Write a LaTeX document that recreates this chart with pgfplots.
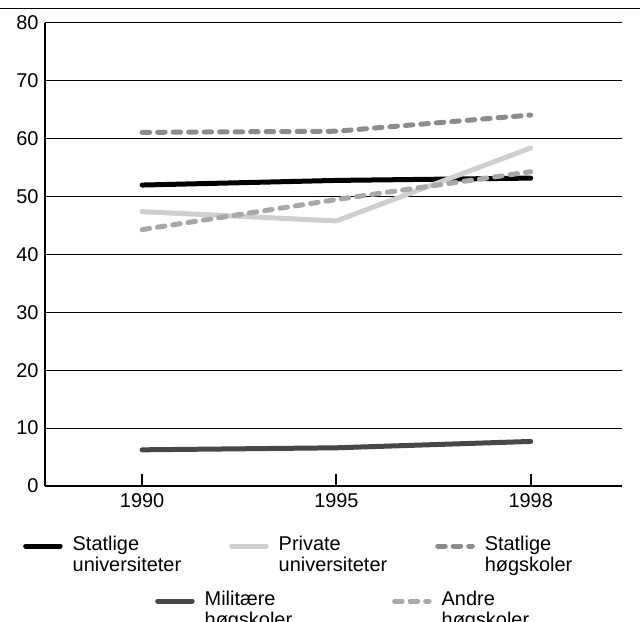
\documentclass[border=0pt]{standalone}
\usepackage{fontspec}
\setmainfont{Liberation Sans}
\usepackage{pgfplots}
\pgfplotsset{compat=1.18}

\definecolor{lgray}{HTML}{CFCFCF}
\definecolor{mgray}{HTML}{8C8C8C}
\definecolor{dgray}{HTML}{474747}
\definecolor{agray}{HTML}{A8A8A8}

\newcommand{\chartfont}{\fontsize{20}{21}\selectfont}

\pgfplotsset{
  dashline/.style={line width=5bp, line cap=round, dash pattern=on 7.5bp off 8bp},
  solidline/.style={line width=5bp, line cap=round, line join=round},
  mylegend/.style={
    draw=none, fill=none, inner sep=0pt, font=\chartfont,
    cells={align=left, anchor=base west},
    nodes={inner sep=0pt},
    /tikz/every odd column/.append style={column sep=10bp},
  },
  legend cell align=left,
  % text cells sit on their last line, so the sample is lifted to the first one
  legend image code/.code={\draw[#1] (2bp,25.5bp) -- (36.5bp,25.5bp);},
}

\begin{document}
\begin{tikzpicture}
\begin{axis}[
  at={(0,0)}, anchor=south west,
  scale only axis, width=577bp, height=463bp,
  xmin=-0.5, xmax=2.47, ymin=0, ymax=80,
  xtick={0,1,2}, xticklabels={1990,1995,1998},
  ytick={0,10,...,80},
  axis x line*=bottom, axis y line*=left,
  x axis line style={line width=2.4bp,-},
  y axis line style={line width=2bp,-},
  ymajorgrids, grid style={line width=1bp, black},
  ytick style={draw=none},
  xtick style={line width=2bp, black},
  xtick align=inside, major tick length=12bp,
  tick label style={font=\chartfont},
  /pgf/number format/assume math mode=true,
  xticklabel style={yshift=-4bp},
  yticklabel style={xshift=-3bp},
  legend columns=3,
  legend style={mylegend,
    at={(axis description cs:0,0)}, anchor=north west,
    xshift=-22bp, yshift=-50bp,
    /tikz/every even column/.append style={column sep=48bp}},
]
\addplot[black, solidline] coordinates {(0,52.0) (1,52.8) (2,53.2)};
\addlegendentry{Statlige\\universiteter}
\addplot[lgray, solidline] coordinates {(0,47.4) (1,45.8) (2,58.4)};
\addlegendentry{Private\\universiteter}
\addplot[mgray, dashline] coordinates {(0,61.1) (1,61.3) (2,64.1)};
\addlegendentry{Statlige\\høgskoler}
\addplot[dgray, solidline] coordinates {(0,6.25) (1,6.6) (2,7.7)};
\addplot[agray, dashline] coordinates {(0,44.3) (1,49.5) (2,54.3)};
\end{axis}

\begin{axis}[
  at={(0,0)}, anchor=south west,
  scale only axis, width=577bp, height=463bp,
  hide axis, xmin=0, xmax=1, ymin=0, ymax=1,
  legend columns=2,
  legend style={mylegend,
    at={(axis description cs:0,0)}, anchor=north west,
    xshift=110bp, yshift=-105bp,
    /tikz/every even column/.append style={column sep=100bp}},
]
\addlegendimage{dgray, solidline}
\addlegendentry{Militære\\høgskoler}
\addlegendimage{agray, dashline}
\addlegendentry{Andre\\høgskoler}
\end{axis}

\pgfresetboundingbox
\path[use as bounding box] (-45bp,-136bp) rectangle (595bp,486bp);
\draw[line width=1.5bp] (-45bp,477.5bp) -- (595bp,477.5bp);
\end{tikzpicture}
\end{document}
